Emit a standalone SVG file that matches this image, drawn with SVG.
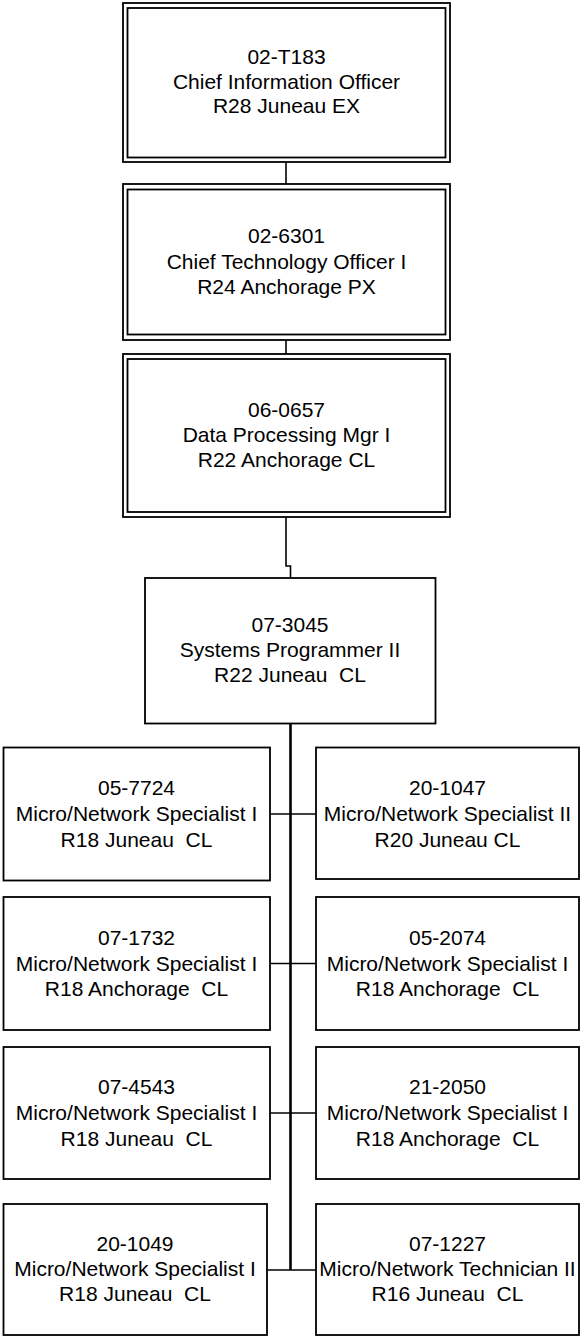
<svg xmlns="http://www.w3.org/2000/svg" width="581" height="1337" viewBox="0 0 581 1337">
<style>
.b{fill:#fff;stroke:#000;stroke-width:1.8}
.t{font-family:"Liberation Sans",Arial,sans-serif;font-size:21px;fill:#000;text-anchor:middle;white-space:pre}
.c{fill:none;stroke:#000;stroke-width:1.6}
.k{fill:none;stroke:#000;stroke-width:2.6}
</style>
<rect width="581" height="1337" fill="#fff"/>
<g id="connectors">
<path class="c" d="M286,162V184"/>
<path class="c" d="M286,340V354"/>
<path class="c" d="M286,517V566H290.5V578"/>
<path class="k" d="M290.5,723V1270"/>
<path class="c" d="M270,814H316"/>
<path class="c" d="M270,963.5H316"/>
<path class="c" d="M270,1113H316"/>
<path class="c" d="M267,1270H316"/>
</g>
<g id="n02-T183">
<rect class="b" x="123" y="3" width="327" height="159"/>
<rect class="b" x="127.5" y="8" width="318" height="149.5"/>
<text class="t" x="286.5" y="64">02-T183</text>
<text class="t" x="286.5" y="88.5">Chief Information Officer</text>
<text class="t" x="286.5" y="113">R28 Juneau EX</text>
</g>
<g id="n02-6301">
<rect class="b" x="123" y="184" width="327" height="156"/>
<rect class="b" x="127.5" y="189.5" width="318" height="145"/>
<text class="t" x="286.5" y="243">02-6301</text>
<text class="t" x="286.5" y="268.5">Chief Technology Officer I</text>
<text class="t" x="286.5" y="294">R24 Anchorage PX</text>
</g>
<g id="n06-0657">
<rect class="b" x="123" y="354" width="327" height="163"/>
<rect class="b" x="127.5" y="359" width="318" height="153"/>
<text class="t" x="286.5" y="417">06-0657</text>
<text class="t" x="286.5" y="442">Data Processing Mgr I</text>
<text class="t" x="286.5" y="467">R22 Anchorage CL</text>
</g>
<g id="n07-3045">
<rect class="b" x="145" y="578" width="290.5" height="145.5"/>
<text class="t" x="290" y="632">07-3045</text>
<text class="t" x="290" y="657">Systems Programmer II</text>
<text class="t" x="290" y="682" xml:space="preserve">R22 Juneau  CL</text>
</g>
<g id="n05-7724">
<rect class="b" x="3.5" y="747.5" width="266.5" height="133"/>
<text class="t" x="136.5" y="795">05-7724</text>
<text class="t" x="136.5" y="821">Micro/Network Specialist I</text>
<text class="t" x="136.5" y="846.5" xml:space="preserve">R18 Juneau  CL</text>
</g>
<g id="n20-1047">
<rect class="b" x="316" y="747.5" width="263" height="131.5"/>
<text class="t" x="447.5" y="795">20-1047</text>
<text class="t" x="447.5" y="821">Micro/Network Specialist II</text>
<text class="t" x="447.5" y="846.5">R20 Juneau CL</text>
</g>
<g id="n07-1732">
<rect class="b" x="3.5" y="897" width="266.5" height="133"/>
<text class="t" x="136.5" y="944.5">07-1732</text>
<text class="t" x="136.5" y="970.5">Micro/Network Specialist I</text>
<text class="t" x="136.5" y="996" xml:space="preserve">R18 Anchorage  CL</text>
</g>
<g id="n05-2074">
<rect class="b" x="316" y="897" width="263" height="133"/>
<text class="t" x="447.5" y="944.5">05-2074</text>
<text class="t" x="447.5" y="970.5">Micro/Network Specialist I</text>
<text class="t" x="447.5" y="996" xml:space="preserve">R18 Anchorage  CL</text>
</g>
<g id="n07-4543">
<rect class="b" x="3.5" y="1047" width="266.5" height="132"/>
<text class="t" x="136.5" y="1094">07-4543</text>
<text class="t" x="136.5" y="1120">Micro/Network Specialist I</text>
<text class="t" x="136.5" y="1145.5" xml:space="preserve">R18 Juneau  CL</text>
</g>
<g id="n21-2050">
<rect class="b" x="316" y="1047" width="263" height="132"/>
<text class="t" x="447.5" y="1094">21-2050</text>
<text class="t" x="447.5" y="1120">Micro/Network Specialist I</text>
<text class="t" x="447.5" y="1145.5" xml:space="preserve">R18 Anchorage  CL</text>
</g>
<g id="n20-1049">
<rect class="b" x="3.5" y="1204" width="263.5" height="131"/>
<text class="t" x="135" y="1251">20-1049</text>
<text class="t" x="135" y="1276">Micro/Network Specialist I</text>
<text class="t" x="135" y="1301" xml:space="preserve">R18 Juneau  CL</text>
</g>
<g id="n07-1227">
<rect class="b" x="316" y="1204" width="263" height="131"/>
<text class="t" x="447.5" y="1251">07-1227</text>
<text class="t" x="447.5" y="1276">Micro/Network Technician II</text>
<text class="t" x="447.5" y="1301" xml:space="preserve">R16 Juneau  CL</text>
</g>
</svg>
